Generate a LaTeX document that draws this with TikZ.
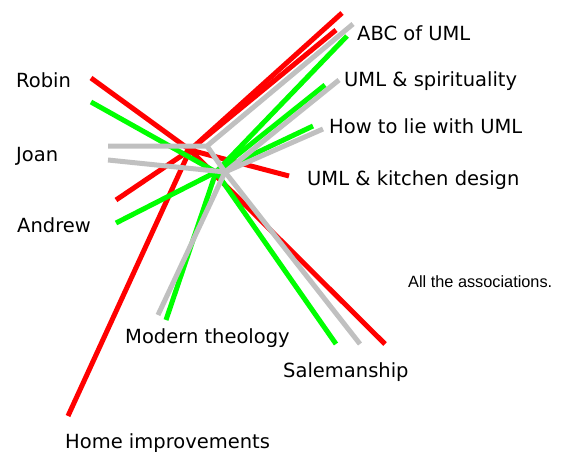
\documentclass[tikz,border=0pt]{standalone}
\usepackage{fontspec}
\setmainfont{DejaVu Sans}
\newfontfamily\notefont{Liberation Sans}
\begin{document}
\begin{tikzpicture}[x=1pt,y=-1pt,
  assoc/.style={line width=5pt,line cap=butt,line join=miter},
  redlink/.style={assoc,draw={rgb,255:red,255;green,0;blue,0}},
  greenlink/.style={assoc,draw={rgb,255:red,0;green,255;blue,0}},
  graylink/.style={assoc,draw={rgb,255:red,192;green,192;blue,192}},
  label/.style={anchor=base west,inner sep=0pt,font=\fontsize{19.5}{22}\selectfont},
  note/.style={anchor=base west,inner sep=0pt,font=\notefont\fontsize{16.3}{19}\selectfont}]
\useasboundingbox (0,0) rectangle (565,452);

% labels
\node[label] (robin)   at (16,88)   {Robin};
\node[label] (joan)    at (16,161)  {Joan};
\node[label] (andrew)  at (17,232)  {Andrew};
\node[label] (abc)     at (357,41)  {ABC of UML};
\node[label] (spirit)  at (344,86)  {UML \& spirituality};
\node[label] (lie)     at (329,133) {How to lie with UML};
\node[label] (kitchen) at (307,185) {UML \& kitchen design};
\node[label] (theo)    at (125,343) {Modern theology};
\node[label] (sales)   at (283,377) {Salemanship};
\node[label] (home)    at (65,448)  {Home improvements};
\node[note]  (caption) at (408,287) {All the associations.};

% red association ends
\coordinate (rHub)     at (190,150);
\coordinate (rRobin)   at (91,78);
\coordinate (rAndrew)  at (116,200);
\coordinate (rHome)    at (68,416);
\coordinate (rAbcA)    at (342,13);
\coordinate (rAbcB)    at (336,30);
\coordinate (rKitchen) at (289,176);
\coordinate (rSales)   at (385,344);

% green association ends
\coordinate (gHub)     at (216,172);
\coordinate (gRobin)   at (91,102);
\coordinate (gAndrew)  at (116,223);
\coordinate (gAbc)     at (347,36);
\coordinate (gSpirit)  at (325,85);
\coordinate (gLie)     at (313,126);
\coordinate (gTheo)    at (166,320);
\coordinate (gSales)   at (336,344);

% gray association ends
\coordinate (yHubA)    at (207,146);
\coordinate (yHubB)    at (225,172);
\coordinate (yJoanA)   at (108,146);
\coordinate (yJoanB)   at (108,160);
\coordinate (yAbc)     at (353,24);
\coordinate (ySpirit)  at (339,80);
\coordinate (yLie)     at (323,129);
\coordinate (yTheo)    at (158,315);
\coordinate (ySales)   at (360,344);

% red links
\draw[redlink] (rRobin) -- (rHub) -- (rSales);
\draw[redlink] (rAndrew) -- (rHub) -- (rAbcA);
\draw[redlink] (rHome) -- (rHub) -- (rAbcB);
\draw[redlink] (rHub) -- (rKitchen);

% green links
\draw[greenlink] (gRobin) -- (gHub) -- (gSales);
\draw[greenlink] (gAndrew) -- (gHub) -- (gAbc);
\draw[greenlink] (gHub) -- (gSpirit);
\draw[greenlink] (gHub) -- (gLie);
\draw[greenlink] (gHub) -- (gTheo);

% gray links
\draw[graylink] (yJoanA) -- (yHubA) -- (yAbc);
\draw[graylink] (yHubA) -- (yHubB);
\draw[graylink] (yJoanB) -- (yHubB) -- (ySales);
\draw[graylink] (yHubB) -- (ySpirit);
\draw[graylink] (yHubB) -- (yLie);
\draw[graylink] (yHubB) -- (yTheo);
\end{tikzpicture}
\end{document}
